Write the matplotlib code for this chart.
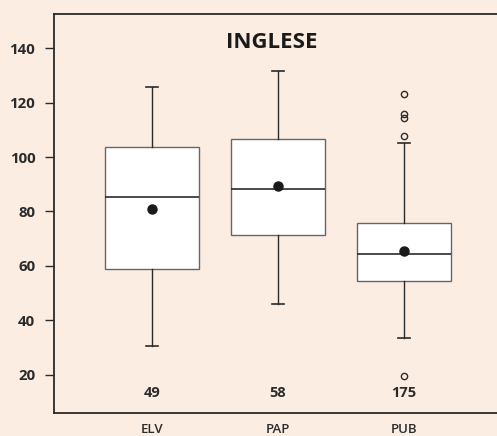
import matplotlib
matplotlib.use("Agg")
import matplotlib.pyplot as plt

categories = ["ELV", "PAP", "PUB"]
counts = [49, 58, 175]
q1 = [59.0, 71.5, 54.4]
median = [85.3, 88.3, 64.3]
q3 = [103.7, 106.6, 75.6]
whisker_low = [30.5, 46.1, 33.5]
whisker_high = [125.8, 131.6, 105.0]
means = [80.8, 89.4, 65.5]
outliers = [[], [], [123.2, 116.0, 114.4, 107.7, 19.5]]
title = "INGLESE"
yticks = [20, 40, 60, 80, 100, 120, 140]

bg = "#fcede3"
ink = "#2b2b2b"
fam = ["Open Sans", "DejaVu Sans"]

fig = plt.figure(figsize=(4.97, 4.36), dpi=100, facecolor=bg)
ax = fig.add_axes([54 / 497, 23 / 436, 448 / 497, 399 / 436])
ax.set_facecolor(bg)

stats = []
for i, c in enumerate(categories):
    stats.append(dict(label=c, q1=q1[i], med=median[i], q3=q3[i],
                      whislo=whisker_low[i], whishi=whisker_high[i],
                      mean=means[i], fliers=outliers[i]))

positions = list(range(1, len(categories) + 1))
ax.bxp(stats, positions=positions, widths=0.74, patch_artist=True,
       showmeans=True, capwidths=0.09,
       boxprops=dict(facecolor="white", edgecolor="#666666", linewidth=1.0),
       medianprops=dict(color=ink, linewidth=1.2),
       whiskerprops=dict(color=ink, linewidth=1.0),
       capprops=dict(color=ink, linewidth=1.2),
       meanprops=dict(marker="o", markerfacecolor="#1a1a1a", markeredgecolor="#1a1a1a", markersize=6.5),
       flierprops=dict(marker="o", markerfacecolor="none", markeredgecolor=ink, markersize=4.5, markeredgewidth=1.0))

ax.set_xlim(0.222, 3.778)
ax.set_ylim(5.9, 152.6)
ax.set_yticks(yticks)
ax.set_yticklabels([str(t) for t in yticks], fontfamily=fam, fontweight="bold", fontsize=10.8, color=ink)
ax.tick_params(axis="y", length=6.5, width=1.0, color=ink, pad=7)
ax.set_xticks(positions)
ax.set_xticklabels(categories, fontfamily=fam, fontweight="semibold", fontsize=9.5, color=ink)
ax.tick_params(axis="x", length=0, pad=7)

for p, n in zip(positions, counts):
    ax.text(p, 13.1, str(n), ha="center", va="center", fontfamily=fam,
            fontweight="bold", fontsize=10.5, color=ink)

fig.text(272 / 497, 1 - 42 / 436, title, ha="center", va="center", fontfamily=fam,
         fontweight="bold", fontsize=16, color="#1a1a1a")

for s in ["left", "top", "bottom"]:
    ax.spines[s].set_color(ink)
    ax.spines[s].set_linewidth(1.3)
ax.spines["right"].set_visible(False)

fig.savefig("out.png", dpi=100, facecolor=bg)
